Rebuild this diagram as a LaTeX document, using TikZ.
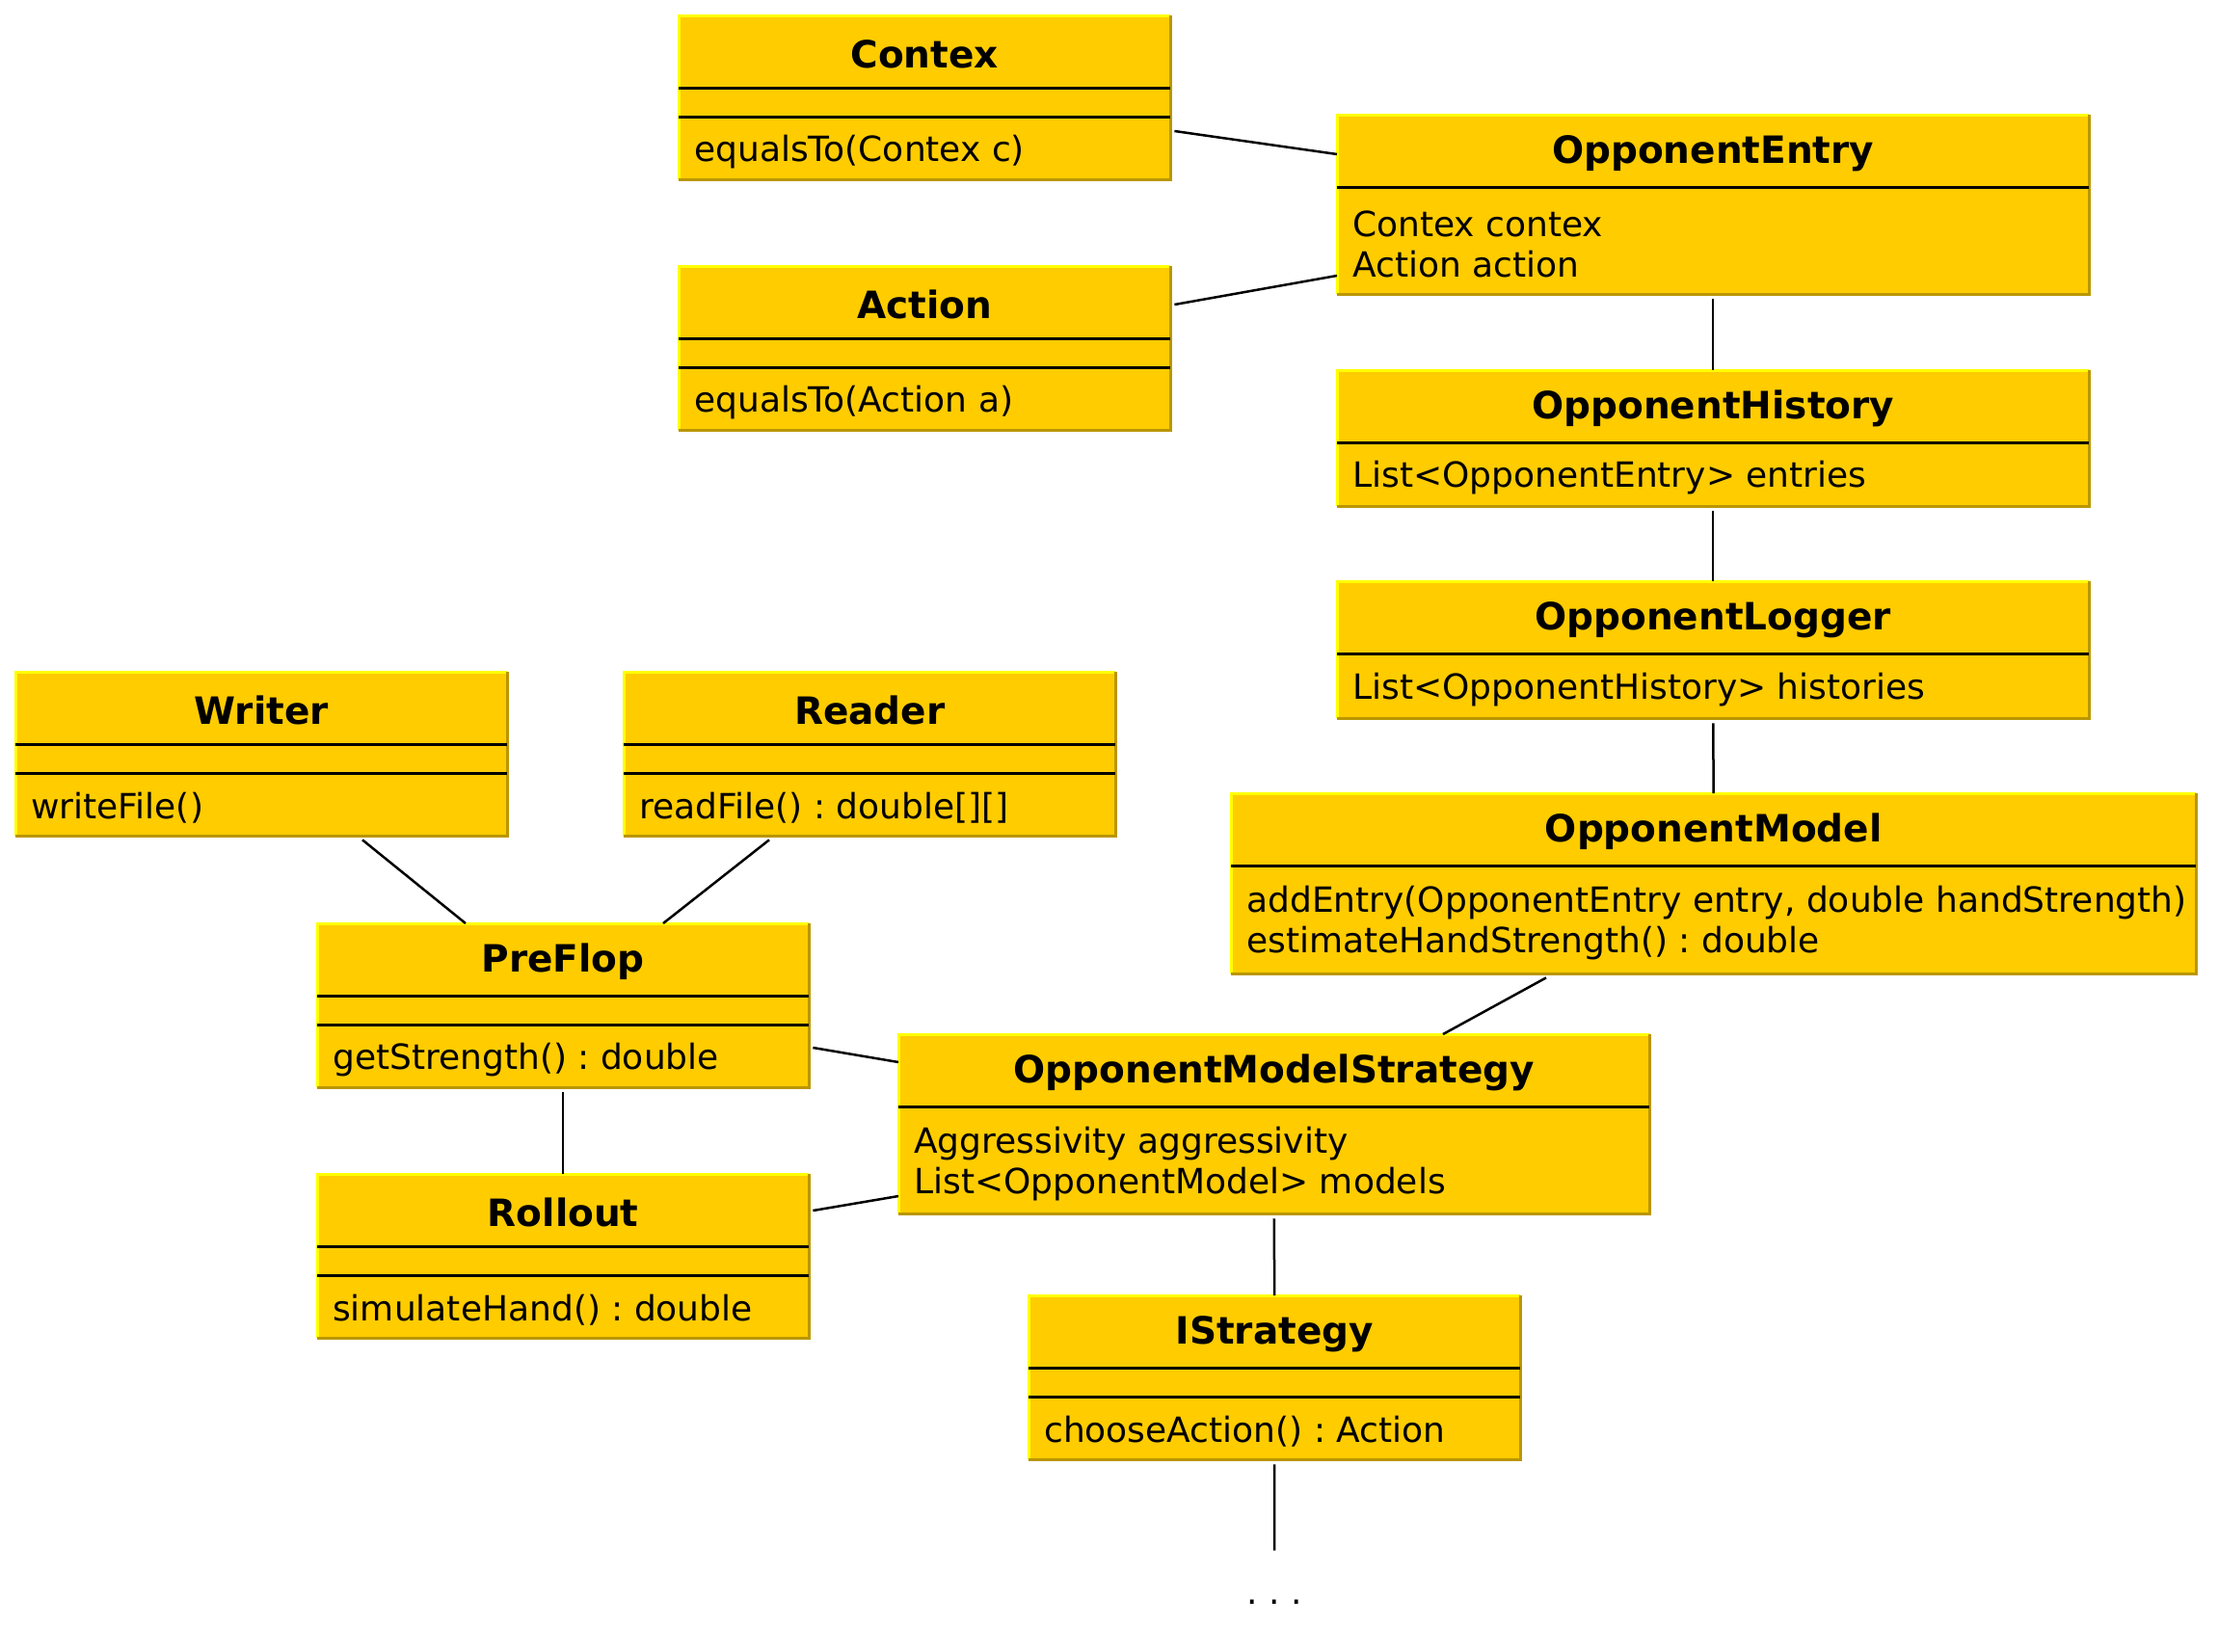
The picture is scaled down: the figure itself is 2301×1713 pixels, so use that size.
\documentclass[tikz,border=0pt]{standalone}
\usepackage{fontspec}
\setmainfont{DejaVu Sans}
\usetikzlibrary{calc}
\definecolor{classfill}{RGB}{255,204,0}
\definecolor{rimlight}{RGB}{255,255,0}
\definecolor{rimdark}{RGB}{186,150,0}
\frenchspacing
\tikzset{
	classbox/.style={fill=classfill, anchor=north west, inner sep=0pt},
	lit edge/.style={draw=rimlight, line width=3pt},
	shade edge/.style={draw=rimdark, line width=3pt},
	divider/.style={draw=black, line width=3pt},
	classname/.style={font=\fontsize{39}{41}\selectfont\bfseries},
	member/.style={anchor=west, align=left, inner xsep=16pt, font=\fontsize{36}{42}\selectfont},
	assoc/.style={draw=black, line width=2.5pt},
	gap/.style={shorten <=5pt}
}
\newcommand{\opsclass}[6]{%
	\node[classbox, minimum width=#4pt, minimum height=170pt] (#1) at (#2,#3) {};
	\draw[lit edge] (#1.south west) -- (#1.north west) -- (#1.north east);
	\draw[shade edge] (#1.north east) -- (#1.south east) -- (#1.south west);
	\node[classname] at ($(#1.north)+(0,40)$) {#5};
	\draw[divider] ($(#1.north west)+(0,75)$) -- ($(#1.north east)+(0,75)$);
	\draw[divider] ($(#1.north west)+(0,105)$) -- ($(#1.north east)+(0,105)$);
	\node[member] at ($(#1.west)+(0,56)$) {#6};
}
\newcommand{\attrclass}[7]{%
	\node[classbox, minimum width=#4pt, minimum height=#5pt] (#1) at (#2,#3) {};
	\draw[lit edge] (#1.south west) -- (#1.north west) -- (#1.north east);
	\draw[shade edge] (#1.north east) -- (#1.south east) -- (#1.south west);
	\node[classname] at ($(#1.north)+(0,40)$) {#6};
	\draw[divider] ($(#1.north west)+(0,75)$) -- ($(#1.north east)+(0,75)$);
	\node[member] at ($(#1.west)+(0,41)$) {#7};
}
\begin{document}
\begin{tikzpicture}[x=1pt, y=-1pt]
	\useasboundingbox (0,0) rectangle (2301,1713);
	\opsclass{contex}{704}{16}{510}{Contex}{equalsTo(Contex c)}
	\opsclass{action}{704}{276}{510}{Action}{equalsTo(Action a)}
	\attrclass{entry}{1387}{119}{780}{186}{OpponentEntry}{Contex contex\\Action action}
	\attrclass{history}{1387}{384}{780}{141}{OpponentHistory}{List<OpponentEntry> entries}
	\attrclass{logger}{1387}{603}{780}{142}{OpponentLogger}{List<OpponentHistory> histories}
	\opsclass{writer}{16}{697}{510}{Writer}{writeFile()}
	\opsclass{reader}{647}{697}{510}{Reader}{readFile() : double[][]}
	\attrclass{model}{1277}{823}{1001}{187}{OpponentModel}{addEntry(OpponentEntry entry, double handStrength)\\estimateHandStrength() : double}
	\opsclass{preflop}{329}{958}{510}{PreFlop}{getStrength() : double}
	\attrclass{strategy}{932}{1073}{779}{186}{OpponentModelStrategy}{Aggressivity aggressivity\\List<OpponentModel> models}
	\opsclass{rollout}{329}{1218}{510}{Rollout}{simulateHand() : double}
	\opsclass{istrategy}{1067}{1344}{510}{IStrategy}{chooseAction() : Action}
	\node[inner sep=0pt, font=\fontsize{36}{41}\selectfont] (more) at (1322,1662) {. . .};

	\draw[assoc] ($(contex.north east)+(4,120)$) -- ($(entry.north west)+(0,41)$);
	\draw[assoc] ($(action.north east)+(4,40)$) -- ($(entry.north west)+(0,167)$);
	\draw[assoc, gap] (entry.south) -- (history.north);
	\draw[assoc, gap] (history.south) -- (logger.north);
	\draw[assoc, gap] (logger.south) -- (model.north);
	\draw[assoc] ($(writer.south west)+(360,4)$) -- ($(preflop.north west)+(154,0)$);
	\draw[assoc] ($(reader.south west)+(151,4)$) -- ($(preflop.north west)+(359,0)$);
	\draw[assoc] ($(model.south west)+(327,4)$) -- ($(strategy.north west)+(565,0)$);
	\draw[assoc] ($(preflop.north east)+(4,129)$) -- ($(strategy.north west)+(0,29)$);
	\draw[assoc, gap] (preflop.south) -- (rollout.north);
	\draw[assoc] ($(rollout.north east)+(4,38)$) -- ($(strategy.north west)+(0,168)$);
	\draw[assoc, gap] (strategy.south) -- (istrategy.north);
	\draw[assoc, gap, shorten >=51pt] (istrategy.south) -- (more.north);
\end{tikzpicture}
\end{document}
